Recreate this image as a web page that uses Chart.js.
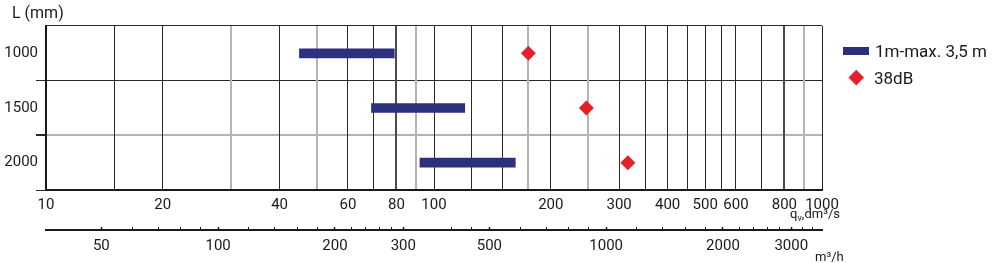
<!DOCTYPE html>
<html>
<head>
<meta charset="utf-8">
<script src="https://cdn.jsdelivr.net/npm/chart.js@4.4.1/dist/chart.umd.min.js"></script>
<style>
  body { margin: 0; background: #fff; }
  .wrap { position: relative; width: 1000px; height: 263px; }
  .legend-text { position: absolute; font: 17px/20px Roboto, sans-serif; color: #1a1a1a; white-space: nowrap; }
  .legend-bar { position: absolute; left: 843px; top: 47px; width: 26px; height: 8px; background: #2d2f7f; }
  .legend-diamond { position: absolute; left: 851px; top: 72px; width: 10.5px; height: 10.5px; background: #e4202a; transform: rotate(45deg); }
</style>
</head>
<body>
<div class="wrap">
  <canvas id="flowChart"></canvas>
  <div class="legend-bar"></div>
  <div class="legend-text" style="left: 875px; top: 41px;">1m-max. 3,5 m</div>
  <div class="legend-diamond"></div>
  <div class="legend-text" style="left: 874px; top: 68px;">38dB</div>
</div>
<script>
const lengths = ['1000', '1500', '2000'];
const rangeSeries = [[45, 79], [69, 120], [92, 162]];
const soundPoints = [175, 247, 316];

// dm3/s axis: where grid lines go and which of them get a number
const flowGrid = [10, 15, 20, 30, 40, 50, 60, 70, 80, 90, 100, 125, 150, 175, 200, 250, 300, 350, 400, 450, 500, 550, 600, 700, 800, 900, 1000];
const flowLabels = [10, 20, 40, 60, 80, 100, 200, 300, 400, 500, 600, 800, 1000];
const lightGridAt = [30, 50, 90, 175, 250, 900];
const heavyGridAt = [80, 800];

// m3/h axis
const hourLabels = [50, 100, 200, 300, 500, 1000, 2000, 3000];
const hourMinor = [60, 70, 80, 90, 120, 140, 160, 180, 220, 240, 260, 280, 400, 450, 600, 700, 800, 900, 1200, 1400, 1600, 1800, 2200, 2400, 2600, 2800, 3200, 3400];

const navy = '#2d2f7f';
const red = '#e4202a';
const ink = '#1a1a1a';

Chart.defaults.font.family = 'Roboto';
Chart.defaults.color = ink;

// unit captions that sit next to the axes
const unitLabels = {
  id: 'unitLabels',
  afterDraw(chart) {
    const { ctx, chartArea } = chart;
    ctx.save();
    ctx.fillStyle = ink;
    ctx.textBaseline = 'alphabetic';
    ctx.textAlign = 'left';

    ctx.font = '16px Roboto';
    ctx.fillText('L (mm)', 12, 17.5);

    // q with subscript v
    ctx.font = '13px Roboto';
    const wq = ctx.measureText('q').width;
    const rest = ',dm³/s';
    const wr = ctx.measureText(rest).width;
    ctx.font = '9px Roboto';
    const wv = ctx.measureText('v').width;
    let x = chartArea.right + 18 - (wq + wv + wr);
    const base = 218;
    ctx.font = '13px Roboto';
    ctx.fillText('q', x, base);
    ctx.font = '9px Roboto';
    ctx.fillText('v', x + wq, base + 3);
    ctx.font = '13px Roboto';
    ctx.fillText(rest, x + wq + wv, base);

    ctx.fillText('m³/h', chartArea.right - 7, 261);
    ctx.restore();
  }
};

const ctx = document.getElementById('flowChart').getContext('2d');

new Chart(ctx, {
  type: 'bar',
  data: {
    labels: lengths,
    datasets: [{
      label: '1m-max. 3,5 m',
      data: rangeSeries,
      backgroundColor: navy,
      barThickness: 9,
      borderSkipped: false,
      order: 2
    }, {
      type: 'line',
      label: '38dB',
      data: soundPoints,
      showLine: false,
      pointStyle: 'rectRot',
      pointRadius: 7.5,
      pointBackgroundColor: red,
      pointBorderWidth: 0,
      order: 1
    }]
  },
  options: {
    indexAxis: 'y',
    responsive: true,
    maintainAspectRatio: false,
    animation: false,
    layout: { padding: { top: 26, right: 178, left: 0, bottom: 0 } },
    plugins: {
      legend: { display: false },
      tooltip: { enabled: false }
    },
    scales: {
      y: {
        type: 'category',
        offset: true,
        grid: {
          offset: true,
          color: c => c.index === 2 ? '#b4b4b4' : '#2a2a2a',
          lineWidth: c => c.index === 2 ? 2 : 1,
          tickLength: 10,
          tickColor: c => c.index === 0 ? 'rgba(0,0,0,0)' : '#2a2a2a'
        },
        border: { color: ink, width: 2 },
        ticks: { font: { size: 15 }, padding: -2 },
        afterFit: s => { s.width = 46; }
      },
      x: {
        type: 'logarithmic',
        position: 'bottom',
        weight: 0,
        min: 10,
        max: 1000,
        afterBuildTicks: s => { s.ticks = flowGrid.map(v => ({ value: v })); },
        grid: {
          drawTicks: false,
          color: c => {
            const v = c.tick && c.tick.value;
            if (lightGridAt.includes(v)) return '#b4b4b4';
            if (heavyGridAt.includes(v)) return '#4a4a4a';
            return '#2a2a2a';
          },
          lineWidth: c => {
            const v = c.tick && c.tick.value;
            if (lightGridAt.includes(v) || heavyGridAt.includes(v)) return 2;
            return 1;
          }
        },
        border: { color: ink, width: 2 },
        ticks: {
          autoSkip: false,
          maxRotation: 0,
          padding: 6,
          font: { size: 15 },
          callback: v => flowLabels.includes(v) ? String(v) : ''
        },
        afterFit: s => { s.height = 40; }
      },
      x2: {
        type: 'logarithmic',
        position: 'bottom',
        weight: 1,
        min: 36,
        max: 3600,
        afterBuildTicks: s => {
          s.ticks = hourLabels.concat(hourMinor).sort((a, b) => a - b).map(v => ({ value: v }));
        },
        grid: {
          drawOnChartArea: false,
          drawTicks: true,
          tickLength: -3,
          tickColor: ink,
          tickWidth: c => hourLabels.includes(c.tick && c.tick.value) ? 1.5 : 1
        },
        border: { color: ink, width: 2 },
        ticks: {
          autoSkip: false,
          maxRotation: 0,
          padding: 10,
          font: { size: 15 },
          callback: v => hourLabels.includes(v) ? String(v) : ''
        },
        afterFit: s => { s.height = 33; }
      }
    }
  },
  plugins: [unitLabels]
});
</script>
</body>
</html>
